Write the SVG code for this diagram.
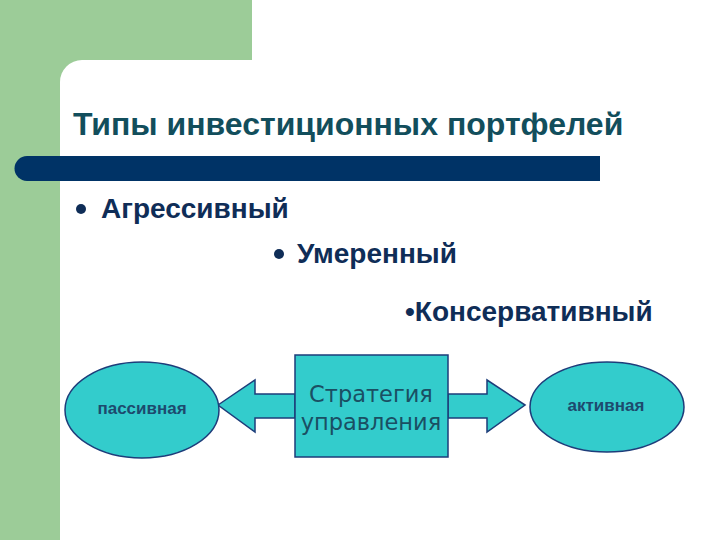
<svg xmlns="http://www.w3.org/2000/svg" width="720" height="540" viewBox="0 0 720 540">
<style>
.bul{font-family:"Liberation Sans",Arial,sans-serif;font-weight:bold;font-size:28px;fill:#0f2d57}
.shape{fill:#33cccc;stroke:#1d3d7a;stroke-width:1.5}
.small{font-family:"Liberation Sans",Arial,sans-serif;font-weight:bold;font-size:17px;fill:#1d4a6e;text-anchor:middle}
.mid{font-family:"DejaVu Sans","Liberation Sans",sans-serif;font-size:22.5px;fill:#1a4f63;text-anchor:middle}
</style>
<rect width="720" height="540" fill="#ffffff"/>
<g id="background">
<path d="M0 0H252V60H82A22 22 0 0 0 60 82V540H0Z" fill="#9ccc98"/>
<path d="M27 156H600V181H27A12.5 12.5 0 0 1 27 156Z" fill="#003366"/>
</g>
<g id="title"><text x="73" y="135" font-family="Liberation Sans,Arial,sans-serif" font-weight="bold" font-size="32" fill="#124e5c">Типы инвестиционных портфелей</text></g>
<g id="bullets">
<circle cx="81" cy="209" r="5" fill="#0f2d57"/>
<text class="bul" x="101" y="218">Агрессивный</text>
<circle cx="279" cy="254" r="5" fill="#0f2d57"/>
<text class="bul" x="297" y="263">Умеренный</text>
<text class="bul" x="405" y="321">•Консервативный</text>
</g>
<g id="connectors">
<path class="shape" d="M218 405L255 380V394H295V418H255V432Z"/>
<path class="shape" d="M525 405L487 380V394H448V418H487V432Z"/>
</g>
<g id="node-passive"><ellipse class="shape" cx="142" cy="410" rx="77" ry="48"/><text class="small" x="142" y="414">пассивная</text></g>
<g id="node-strategy"><rect class="shape" x="295" y="355" width="153" height="102"/><text class="mid" x="371" y="402">Стратегия</text><text class="mid" x="371" y="430">управления</text></g>
<g id="node-active"><ellipse class="shape" cx="607" cy="407" rx="77" ry="45"/><text class="small" x="606" y="411">активная</text></g>
</svg>
